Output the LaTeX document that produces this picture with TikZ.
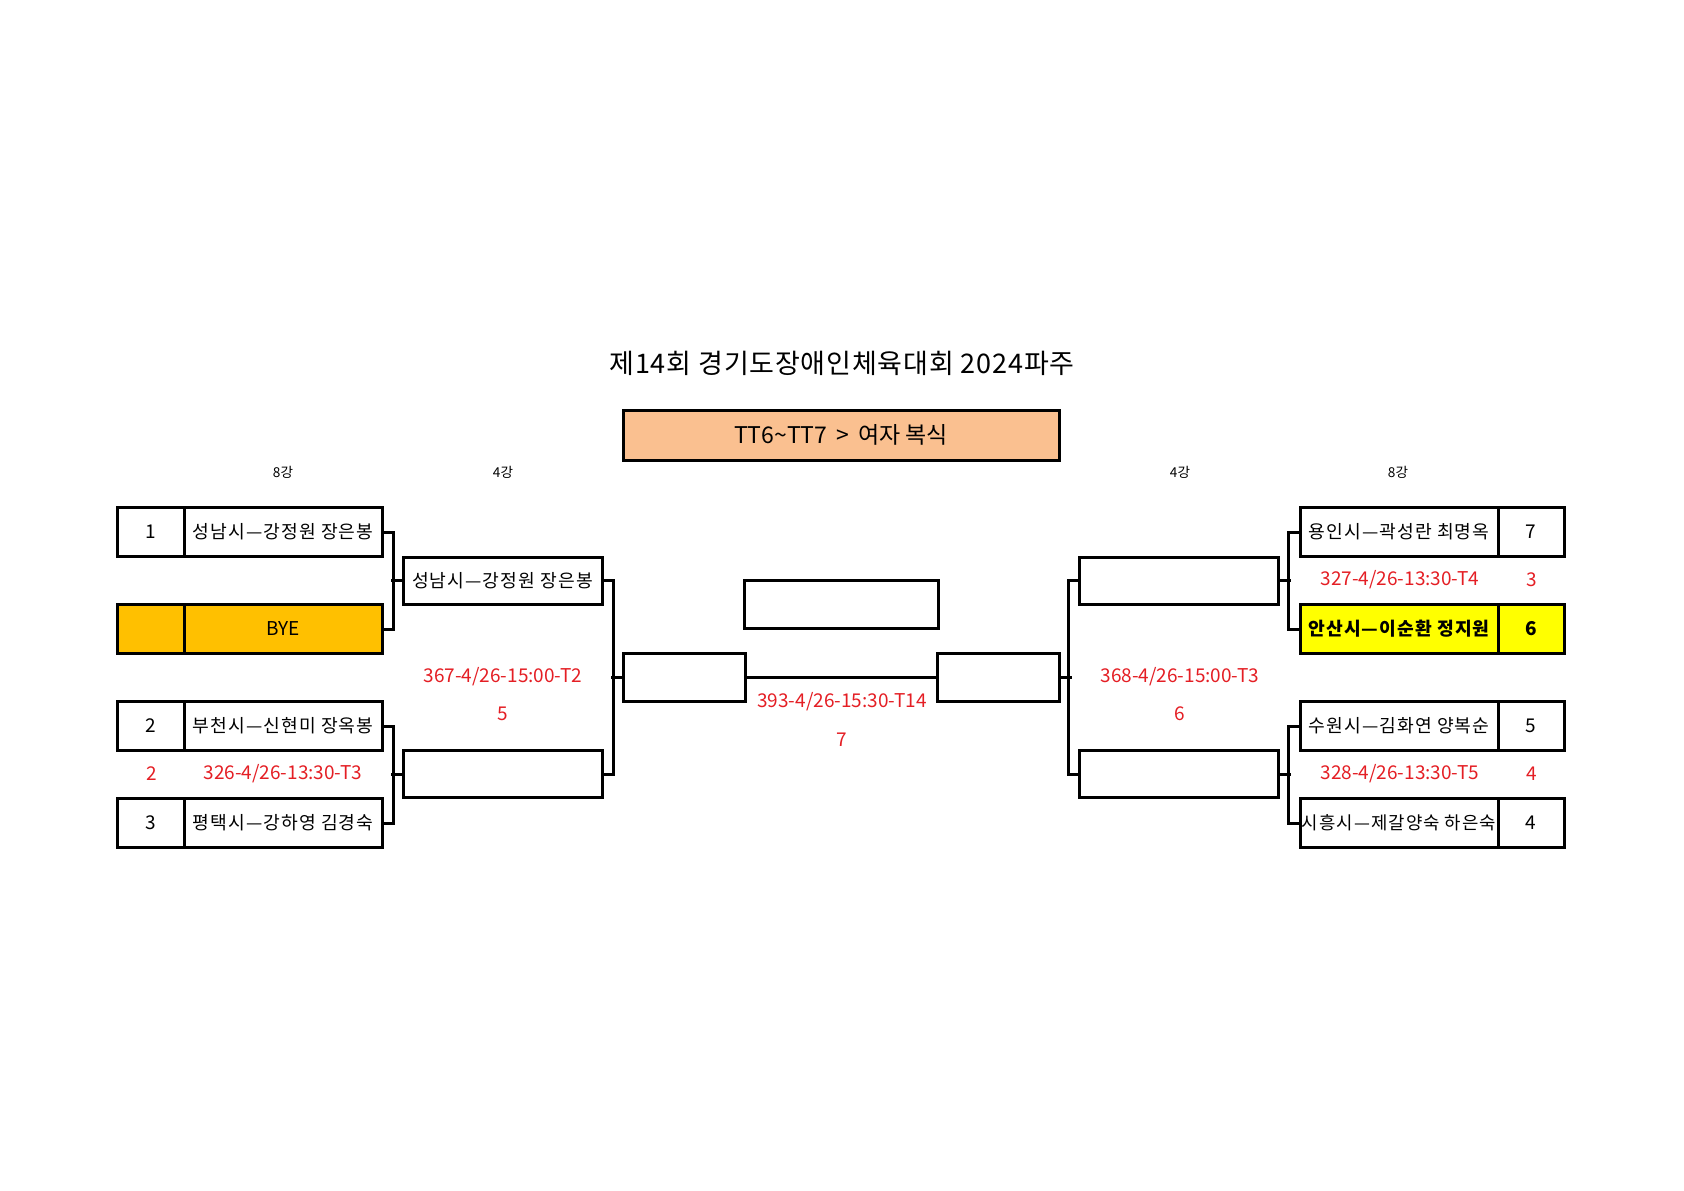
\documentclass[tikz,border=0pt]{standalone}
\usepackage{fontspec}
\setmainfont{Noto Sans CJK KR}
\newfontfamily\krwide{Noto Sans CJK KR}[LetterSpace=6]
\newfontfamily\krtitle{Noto Sans CJK KR}[LetterSpace=3]
\definecolor{redtxt}{RGB}{228,30,36}
\definecolor{peach}{RGB}{250,192,144}
\definecolor{byeorange}{RGB}{255,192,0}
\definecolor{hiyellow}{RGB}{255,255,0}
\begin{document}
\begin{tikzpicture}[x=0.5pt,y=-0.5pt,
  cell/.style={draw, line width=1.5pt, inner sep=0pt, minimum height=24.5pt, font=\fontsize{9.5}{11}\selectfont},
  numcell/.style={cell, minimum width=33.5pt},
  namecell/.style={cell, minimum width=99pt, font=\krwide\fontsize{9.1}{11}\selectfont},
  rbox/.style={draw, line width=1.5pt, inner sep=0pt, minimum height=23.5pt, minimum width=99.5pt, font=\krwide\fontsize{9.1}{11}\selectfont},
  sbox/.style={draw, line width=1.5pt, inner sep=0pt, minimum height=24pt, minimum width=61pt},
  conn/.style={line width=1.5pt},
  redlbl/.style={text=redtxt, inner sep=0pt, font=\fontsize{9.5}{11}\selectfont},
  roundlbl/.style={inner sep=0pt, font=\fontsize{6.8}{8}\selectfont}]
\useasboundingbox (0,0) rectangle (1684,1190);

% title
\node[inner sep=0pt, font=\krtitle\fontsize{13.5}{15}\selectfont] (title) at (842,363) {제14회 경기도장애인체육대회 2024파주};
\node[draw, line width=1.5pt, fill=peach, inner sep=0pt, minimum width=218pt, minimum height=25pt,
      font=\fontsize{11.5}{13}\selectfont] (event) at (841,435) {TT6\textasciitilde TT7 \,>\, 여자 복식};

% round labels
\node[roundlbl] (l8) at (283,472) {8강};
\node[roundlbl] (l4) at (503,472) {4강};
\node[roundlbl] (r4) at (1180,472) {4강};
\node[roundlbl] (r8) at (1398,472) {8강};

% left round of 8
\node[numcell] (ln1) at (150.5,532) {1};
\node[namecell] (lm1) at (283,532) {성남시—강정원 장은봉};
\node[numcell, fill=byeorange] (ln2) at (150.5,629) {};
\node[cell, minimum width=99pt, fill=byeorange] (lm2) at (283,629) {BYE};
\node[numcell] (ln3) at (150.5,726) {2};
\node[namecell] (lm3) at (283,726) {부천시—신현미 장옥봉};
\node[numcell] (ln4) at (150.5,823) {3};
\node[namecell] (lm4) at (283,823) {평택시—강하영 김경숙};
\node[redlbl] (lsc2) at (152,774) {2};
\node[redlbl] (lg2) at (283,774) {326-4/26-13:30-T3};

% left semifinal boxes
\node[rbox] (lq1) at (502.5,580.5) {성남시—강정원 장은봉};
\node[rbox] (lq2) at (502.5,774) {};
\node[redlbl] (lg3) at (503,677) {367-4/26-15:00-T2};
\node[redlbl] (lsc3) at (503,714) {5};

% center
\node[sbox] (ls) at (684,677) {};
\node[sbox] (rs) at (998,677) {};
\node[draw, line width=1.5pt, inner sep=0pt, minimum width=97pt, minimum height=24pt] (fin) at (841,604) {};
\node[redlbl] (gfin) at (842,702) {393-4/26-15:30-T14};
\node[redlbl] (scfin) at (842,740) {7};

% right semifinal boxes
\node[rbox] (rq1) at (1179,580.5) {};
\node[rbox] (rq2) at (1179,774) {};
\node[redlbl] (rg3) at (1180,677) {368-4/26-15:00-T3};
\node[redlbl] (rsc3) at (1180,714) {6};

% right round of 8
\node[namecell] (rm1) at (1399,532) {용인시—곽성란 최명옥};
\node[numcell, minimum width=33pt] (rn1) at (1531,532) {7};
\node[namecell, fill=hiyellow, font=\krwide\fontsize{9.1}{11}\selectfont\bfseries] (rm2) at (1399,629) {안산시—이순환 정지원};
\node[numcell, minimum width=33pt, fill=hiyellow, font=\fontsize{9.5}{11}\selectfont\bfseries] (rn2) at (1531,629) {6};
\node[namecell] (rm3) at (1399,726) {수원시—김화연 양복순};
\node[numcell, minimum width=33pt] (rn3) at (1531,726) {5};
\node[namecell, font=\krwide\fontsize{8.9}{11}\selectfont] (rm4) at (1399,823) {시흥시—제갈양숙 하은숙};
\node[numcell, minimum width=33pt] (rn4) at (1531,823) {4};
\node[redlbl] (rg1) at (1400,580) {327-4/26-13:30-T4};
\node[redlbl] (rsc1) at (1532,580) {3};
\node[redlbl] (rg2) at (1400,774) {328-4/26-13:30-T5};
\node[redlbl] (rsc2) at (1532,774) {4};

% connectors left
\draw[conn] (lm1.east) -- ++(10,0) |- (lm2.east);
\draw[conn] (lq1.west) -- ++(-11,0);
\draw[conn] (lm3.east) -- ++(10,0) |- (lm4.east);
\draw[conn] (lq2.west) -- ++(-11,0);
\draw[conn] (lq1.east) -- ++(10,0) |- (lq2.east);
\draw[conn] (ls.west) -- ++(-11,0);
% final
\draw[conn] (ls.east) -- (rs.west);
% connectors right
\draw[conn] (rm1.west) -- ++(-10,0) |- (rm2.west);
\draw[conn] (rq1.east) -- ++(11,0);
\draw[conn] (rm3.west) -- ++(-10,0) |- (rm4.west);
\draw[conn] (rq2.east) -- ++(11,0);
\draw[conn] (rq1.west) -- ++(-10,0) |- (rq2.west);
\draw[conn] (rs.east) -- ++(11,0);
\end{tikzpicture}
\end{document}
